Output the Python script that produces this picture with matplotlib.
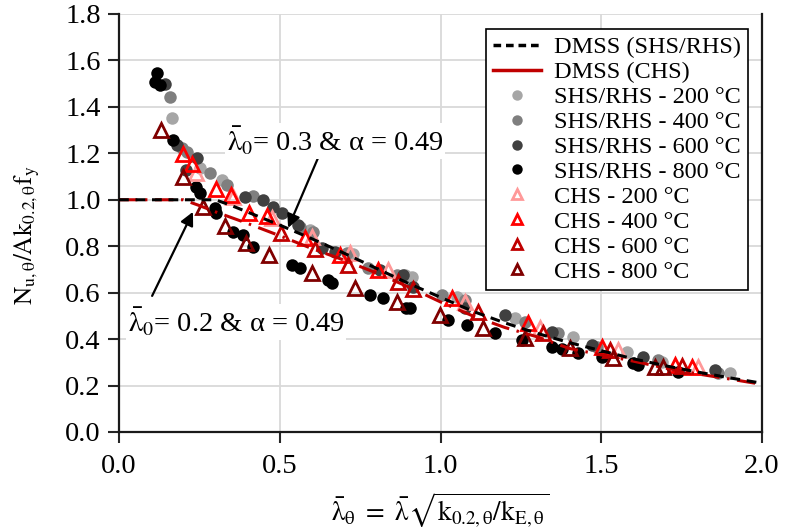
import matplotlib
matplotlib.use("Agg")
import matplotlib.pyplot as plt
from matplotlib.lines import Line2D

plt.rcParams['font.family'] = ['Liberation Serif', 'DejaVu Serif']
plt.rcParams['mathtext.fontset'] = 'stix'

# Design curves (DMSS)
curve_x = [0.0, 0.1, 0.2, 0.25, 0.3, 0.35, 0.4, 0.5, 0.6, 0.7, 0.8, 0.9, 1.0,
           1.1, 1.2, 1.3, 1.4, 1.5, 1.6, 1.7, 1.8, 1.9, 2.0]
dmss_shs = [1.0, 1.0, 1.0, 1.0, 1.0, 0.975, 0.947, 0.891, 0.832, 0.77, 0.705, 0.64, 0.58,
            0.52, 0.47, 0.425, 0.385, 0.35, 0.315, 0.285, 0.258, 0.233, 0.21]
dmss_chs = [1.0, 1.0, 1.0, 0.975, 0.948, 0.923, 0.898, 0.845, 0.79, 0.74, 0.685, 0.625, 0.56,
            0.50, 0.45, 0.41, 0.36, 0.332, 0.305, 0.275, 0.25, 0.228, 0.205]

# SHS/RHS test results
shs200_x = [0.164, 0.252, 0.319, 0.594, 0.729, 0.89, 0.91, 1.05, 1.232, 1.413, 1.579, 1.688, 1.9]
shs200_y = [1.351, 1.136, 1.085, 0.87, 0.767, 0.676, 0.669, 0.583, 0.49, 0.408, 0.346, 0.303, 0.255]

shs400_x = [0.159, 0.195, 0.211, 0.283, 0.335, 0.418, 0.563, 0.604, 0.708, 0.776, 0.864, 1.004,
            1.076, 1.263, 1.367, 1.486, 1.678, 1.864]
shs400_y = [1.444, 1.222, 1.207, 1.114, 1.064, 1.016, 0.884, 0.863, 0.77, 0.705, 0.676, 0.59,
            0.568, 0.475, 0.428, 0.365, 0.31, 0.253]

shs600_x = [0.143, 0.179, 0.208, 0.242, 0.392, 0.449, 0.48, 0.506, 0.558, 0.63, 0.672, 0.812,
            0.884, 0.916, 1.076, 1.2, 1.346, 1.47, 1.631, 1.854]
shs600_y = [1.498, 1.236, 1.128, 1.179, 1.013, 1.0, 0.97, 0.942, 0.891, 0.791, 0.777, 0.698,
            0.676, 0.626, 0.533, 0.504, 0.432, 0.375, 0.324, 0.267]

shs800_x = [0.117, 0.112, 0.128, 0.169, 0.24, 0.252, 0.299, 0.302, 0.356, 0.387, 0.418, 0.537,
            0.563, 0.651, 0.662, 0.781, 0.822, 0.894, 0.905, 1.024, 1.081, 1.17, 1.252, 1.346,
            1.377, 1.429, 1.501, 1.6, 1.615, 1.74]
shs800_y = [1.545, 1.509, 1.494, 1.257, 1.057, 1.028, 0.963, 0.942, 0.863, 0.848, 0.798, 0.719,
            0.705, 0.655, 0.643, 0.59, 0.576, 0.533, 0.533, 0.482, 0.461, 0.425, 0.396, 0.367,
            0.356, 0.339, 0.324, 0.296, 0.289, 0.26]

# CHS test results
chs200_x = [0.24, 0.354, 0.475, 0.599, 0.719, 0.838, 1.076, 1.31, 1.553, 1.802]
chs200_y = [1.117, 1.013, 0.92, 0.841, 0.77, 0.698, 0.561, 0.447, 0.353, 0.279]

chs400_x = [0.198, 0.228, 0.302, 0.347, 0.405, 0.459, 0.579, 0.687, 0.807, 1.035, 1.273,
            1.501, 1.73, 1.781]
chs400_y = [1.196, 1.154, 1.045, 1.021, 0.942, 0.93, 0.834, 0.762, 0.698, 0.576, 0.468,
            0.367, 0.289, 0.281]

chs600_x = [0.504, 0.61, 0.713, 0.869, 0.916, 1.118, 1.32, 1.527, 1.752]
chs600_y = [0.856, 0.787, 0.719, 0.647, 0.615, 0.518, 0.425, 0.353, 0.284]

chs800_x = [0.131, 0.198, 0.262, 0.33, 0.394, 0.468, 0.599, 0.734, 0.864, 0.998, 1.133,
            1.263, 1.403, 1.538, 1.667, 1.693]
chs800_y = [1.30, 1.097, 0.970, 0.887, 0.815, 0.762, 0.683, 0.619, 0.561, 0.504, 0.447,
            0.404, 0.361, 0.317, 0.281, 0.279]

x_ticks = [0.0, 0.5, 1.0, 1.5, 2.0]
y_ticks = [0.0, 0.2, 0.4, 0.6, 0.8, 1.0, 1.2, 1.4, 1.6, 1.8]

shs_series = [(shs200_x, shs200_y, '#a6a6a6', 'SHS/RHS - 200 °C'),
              (shs400_x, shs400_y, '#7f7f7f', 'SHS/RHS - 400 °C'),
              (shs600_x, shs600_y, '#404040', 'SHS/RHS - 600 °C'),
              (shs800_x, shs800_y, '#000000', 'SHS/RHS - 800 °C')]
chs_series = [(chs200_x, chs200_y, '#ff9999', 'CHS - 200 °C'),
              (chs400_x, chs400_y, '#ff0000', 'CHS - 400 °C'),
              (chs600_x, chs600_y, '#c00000', 'CHS - 600 °C'),
              (chs800_x, chs800_y, '#800000', 'CHS - 800 °C')]

fig = plt.figure(figsize=(7.85, 5.32), dpi=100)
ax = fig.add_axes([0.1516, 0.188, 0.8191, 0.7857])

for xs, ys, c, lab in shs_series:
    ax.plot(xs, ys, ls='none', marker='o', ms=9, mfc=c, mec=c, mew=0, zorder=2)
for xs, ys, c, lab in chs_series:
    ax.plot(xs, ys, ls='none', marker='^', ms=9.5, mfc='none', mec=c, mew=2.0, zorder=2.5)

ax.plot(curve_x, dmss_chs, color='#c00000', lw=2.2, dashes=(6, 2.5, 0.8, 2.5), zorder=3)
ax.plot(curve_x, dmss_shs, color='black', lw=2.2, dashes=(3.2, 2.2), zorder=3.1)

ax.set_xlim(0, 2.0)
ax.set_ylim(0, 1.8)
ax.set_xticks(x_ticks)
ax.set_yticks(y_ticks)
ax.set_xticklabels([f'{v:.1f}' for v in x_ticks])
ax.set_yticklabels([f'{v:.1f}' for v in y_ticks])
ax.grid(True, color='#d9d9d9', lw=1.3, zorder=0)
ax.set_axisbelow(True)
ax.tick_params(axis='both', direction='out', length=8, width=1.5, labelsize=20.5,
               color='#262626', pad=5)
ax.tick_params(axis='x', pad=8)
for side in ['left', 'bottom', 'right']:
    ax.spines[side].set_linewidth(1.6)
    ax.spines[side].set_color('#1a1a1a')
ax.spines['top'].set_visible(False)

ax.set_xlabel(r'$\bar{\mathrm{λ}}_{\mathrm{θ}}\ =\ \bar{\mathrm{λ}}\sqrt{\mathrm{k_{0.2,θ}/k_{E,θ}}}$',
              fontsize=19.5, labelpad=8)
ax.set_ylabel(r'$\mathrm{N_{u,θ}/Ak_{0.2,θ}f_y}$', fontsize=18)
ax.yaxis.set_label_coords(-0.12, 0.47)

# Annotations for the two curve parameter sets
ax.annotate('', xy=(0.526, 0.879), xytext=(0.619, 1.180),
            arrowprops=dict(arrowstyle='-|>', color='black', lw=1.6, mutation_scale=20,
                            shrinkA=0, shrinkB=0), zorder=5)
ax.annotate('', xy=(0.23, 0.948), xytext=(0.103, 0.586),
            arrowprops=dict(arrowstyle='-|>', color='black', lw=1.6, mutation_scale=20,
                            shrinkA=0, shrinkB=0), zorder=5)
ax.text(0.672, 1.253, r'$\bar{\mathrm{λ}}_0$= 0.3 & α = 0.49', fontsize=20.5,
        ha='center', va='center', zorder=6,
        bbox=dict(fc='white', ec='none', pad=1.5))
ax.text(0.364, 0.474, r'$\bar{\mathrm{λ}}_0$= 0.2 & α = 0.49', fontsize=20.5,
        ha='center', va='center', zorder=6,
        bbox=dict(fc='white', ec='none', pad=1.5))

handles = [Line2D([], [], color='black', lw=2.5, dashes=(2.2, 1.4)),
           Line2D([], [], color='#c00000', lw=2.5)]
labels = ['DMSS (SHS/RHS)', 'DMSS (CHS)']
for xs, ys, c, lab in shs_series:
    handles.append(Line2D([], [], ls='none', marker='o', ms=7.5, mfc=c, mec=c, mew=0))
    labels.append(lab)
for xs, ys, c, lab in chs_series:
    handles.append(Line2D([], [], ls='none', marker='^', ms=7, mfc='none', mec=c, mew=2.0))
    labels.append(lab)

leg = ax.legend(handles, labels, loc='upper right', bbox_to_anchor=(0.978, 0.964),
                fontsize=17.5, frameon=True, fancybox=False, edgecolor='black',
                framealpha=1, borderpad=0.3, labelspacing=0.12, handlelength=2.0,
                handletextpad=0.5, borderaxespad=0)
leg.get_frame().set_linewidth(1.2)
leg.set_zorder(7)

fig.savefig('out.png', dpi=100)
